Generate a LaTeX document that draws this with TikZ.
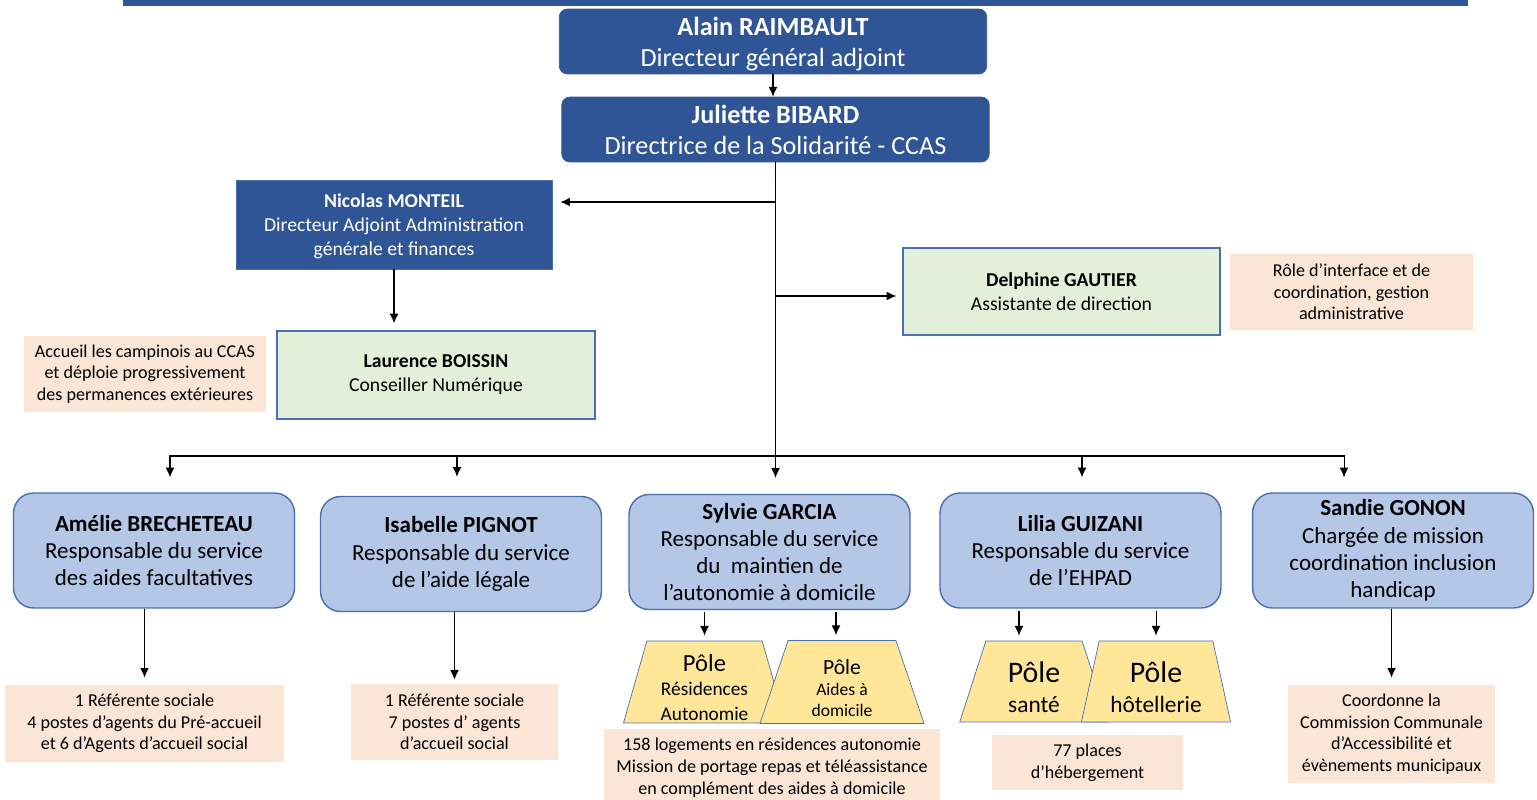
\documentclass[tikz,border=0pt]{standalone}
\usepackage{fontspec}
\setmainfont{Carlito}
\usepackage{tikz}
\usetikzlibrary{arrows.meta,calc,positioning,shapes.geometric}
\definecolor{ccasblue}{HTML}{2F5597}
\definecolor{serviceblue}{HTML}{B4C7E7}
\definecolor{edgeblue}{HTML}{4A6FB0}
\definecolor{assistgreen}{HTML}{E2F0D9}
\definecolor{notepeach}{HTML}{FBE5D6}
\definecolor{poleyellow}{HTML}{FFE699}
\newcommand{\polebig}{\fontsize{17}{18}\selectfont}
\newcommand{\polemid}{\fontsize{14}{16}\selectfont}
\newcommand{\polestrut}[1]{\rule{0pt}{#1}}
\tikzset{%
	direction/.style = {draw=ccasblue, fill=ccasblue, text=white, rounded corners=0.16cm, inner sep=0pt, align=center, text depth=0pt, minimum width=8.55cm, minimum height=1.3cm, font=\fontsize{14.9}{17.6}\selectfont}, % DGA, directrice
	adjoint/.style   = {draw=edgeblue, fill=ccasblue, text=white, inner sep=0pt, align=center, text depth=0pt, font=\fontsize{11.2}{13.6}\selectfont},
	assist/.style    = {draw=edgeblue, fill=assistgreen, line width=0.8pt, inner sep=0pt, align=center, font=\fontsize{11.2}{13.6}\selectfont},
	service/.style   = {draw=edgeblue, fill=serviceblue, line width=0.8pt, rounded corners=0.4cm, inner sep=0pt, align=center, minimum width=5.62cm, minimum height=2.3cm, font=\fontsize{13.1}{15.5}\selectfont},
	note/.style      = {fill=notepeach, inner sep=0pt, align=center, font=\fontsize{10.3}{12.3}\selectfont},
	pole/.style      = {draw=edgeblue, fill=poleyellow, trapezium, trapezium left angle=77, trapezium right angle=77, trapezium stretches=true, inner sep=0pt, align=center},
	arrow/.style     = {semithick, -{Latex[length=5.5pt, width=5pt]}},
}

\begin{document}
\begin{tikzpicture}[x=0.02cm, y=-0.02cm]
	\useasboundingbox (0,0) rectangle (1537,800);
	% bandeau du titre
	\fill[ccasblue] (123,0) rectangle (1468,6);

	% direction
	\node [direction] (Alain) at (773,41.5) {\textbf{Alain RAIMBAULT}\\Directeur général adjoint};
	\node [direction] (Juliette) at (775.5,129.5) {\textbf{Juliette BIBARD}\\Directrice de la Solidarité - CCAS};
	\node [adjoint, minimum width=6.32cm, minimum height=1.78cm] (Nicolas) at (394,224.5) {\textbf{Nicolas MONTEIL}\\Directeur Adjoint Administration\\générale et finances};
	\node [assist, minimum width=6.36cm, minimum height=1.76cm] (Laurence) at (436,375) {\textbf{Laurence BOISSIN}\\Conseiller Numérique};
	\node [assist, minimum width=6.34cm, minimum height=1.74cm] (Delphine) at (1061.5,291.5) {\textbf{Delphine GAUTIER}\\Assistante de direction};
	\node [note, minimum width=4.84cm, minimum height=1.52cm] (noteLaurence) at (145,374) {Accueil les campinois au CCAS\\et déploie progressivement\\des permanences extérieures};
	\node [note, minimum width=4.86cm, minimum height=1.52cm] (noteDelphine) at (1351.5,292) {Rôle d’interface et de\\coordination, gestion\\administrative};

	% services
	\node [service] (Amelie) at (154,550.5) {\textbf{Amélie BRECHETEAU}\\Responsable du service\\des aides facultatives};
	\node [service] (Isabelle) at (461,554) {\textbf{Isabelle PIGNOT}\\Responsable du service\\de l’aide légale};
	\node [service] (Sylvie) at (769.5,552) {\textbf{Sylvie GARCIA}\\Responsable du service\\du~ maintien de\\l’autonomie à domicile};
	\node [service] (Lilia) at (1080.5,550.5) {\textbf{Lilia GUIZANI}\\Responsable du service\\de l’EHPAD};
	\node [service] (Sandie) at (1393,550.5) {\textbf{Sandie GONON}\\Chargée de mission\\coordination inclusion\\handicap};

	% poles
	\node [pole, minimum width=3.26cm, minimum height=1.64cm, font=\fontsize{11}{13.8}\selectfont] (Pres) at (704.5,682) {\polemid\polestrut{16pt}Pôle\\Résidences\\Autonomie};
	\node [pole, minimum width=3.3cm, minimum height=1.66cm, font=\fontsize{10}{12}\selectfont] (Paides) at (842,682) {\fontsize{12.3}{14}\selectfont\polestrut{15pt}Pôle\\Aides à\\domicile};
	\node [pole, minimum width=2.98cm, minimum height=1.62cm, font=\fontsize{13.3}{17}\selectfont] (Psante) at (1034,681.5) {\polebig\polestrut{18pt}Pôle\\santé};
	\node [pole, minimum width=3cm, minimum height=1.62cm, font=\fontsize{13.3}{17}\selectfont] (Photel) at (1156,681.5) {\polebig\polestrut{18pt}Pôle\\hôtellerie};

	% notes
	\node [note, minimum width=5.58cm, minimum height=1.54cm] (noteAmelie) at (144.5,723.5) {1 Référente sociale\\4 postes d’agents du Pré-accueil\\et 6 d’Agents d’accueil social};
	\node [note, minimum width=4.14cm, minimum height=1.52cm] (noteIsabelle) at (454.5,722) {1 Référente sociale\\7 postes d’ agents\\d’accueil social};
	\node [note, minimum width=6.72cm, minimum height=1.56cm, font=\fontsize{10.3}{12.5}\selectfont] (noteSylvie) at (772,768) {158 logements en résidences autonomie\\Mission de portage repas et téléassistance\\en complément des aides à domicile};
	\node [note, minimum width=3.82cm, minimum height=1.1cm] (noteLilia) at (1087.5,762.5) {77 places\\d’hébergement};
	\node [note, minimum width=4.14cm, minimum height=1.96cm] (noteSandie) at (1391.5,734) {Coordonne la\\Commission Communale\\d’Accessibilité et\\évènements municipaux};

	% liaisons
	\coordinate (toNicolas) at (775.5,202);
	\coordinate (toDelphine) at (775.5,296);
	\coordinate (bus) at (775.5,456);
	\draw[arrow] (Alain.south) -- (Alain.south |- Juliette.north);
	\draw[semithick] (Juliette.south) -- (bus);
	\draw[arrow, shorten >=0.16cm] (toNicolas) -- (toNicolas -| Nicolas.east);
	\draw[arrow, shorten >=0.12cm] (toDelphine) -- (toDelphine -| Delphine.west);
	\draw[arrow, shorten >=0.14cm] (Nicolas.south) -- (Nicolas.south |- Laurence.north);
	\draw[arrow, shorten >=0.3cm] (bus) -| ([xshift=0.32cm]Amelie.north);
	\draw[arrow, shorten >=0.38cm] (bus) -| ([xshift=-0.08cm]Isabelle.north);
	\draw[arrow, shorten >=0.32cm] (bus) -- (bus |- Sylvie.north);
	\draw[arrow, shorten >=0.3cm] (bus) -| ([xshift=0.03cm]Lilia.north);
	\draw[arrow, shorten >=0.3cm] (bus) -| ([xshift=-0.98cm]Sandie.north);
	\draw[arrow, shorten >=0.14cm] (Amelie.south -| noteAmelie.north) -- (noteAmelie.north);
	\draw[arrow, shorten >=0.08cm] (Isabelle.south -| noteIsabelle.north) -- (noteIsabelle.north);
	\draw[arrow, shorten >=0.14cm] (Sandie.south -| noteSandie.north) -- (noteSandie.north);
	\draw[arrow, shorten <=0.04cm, shorten >=0.1cm] (Sylvie.south -| Pres.north) -- (Pres.north);
	\draw[arrow, shorten <=0.04cm, shorten >=0.1cm] ([xshift=-0.12cm]Sylvie.south -| Paides.north) -- ([xshift=-0.12cm]Paides.north);
	\draw[arrow, shorten <=0.04cm, shorten >=0.1cm] ([xshift=-0.3cm]Lilia.south -| Psante.north) -- ([xshift=-0.3cm]Psante.north);
	\draw[arrow, shorten <=0.04cm, shorten >=0.1cm] (Lilia.south -| Photel.north) -- (Photel.north);
\end{tikzpicture}
\end{document}
